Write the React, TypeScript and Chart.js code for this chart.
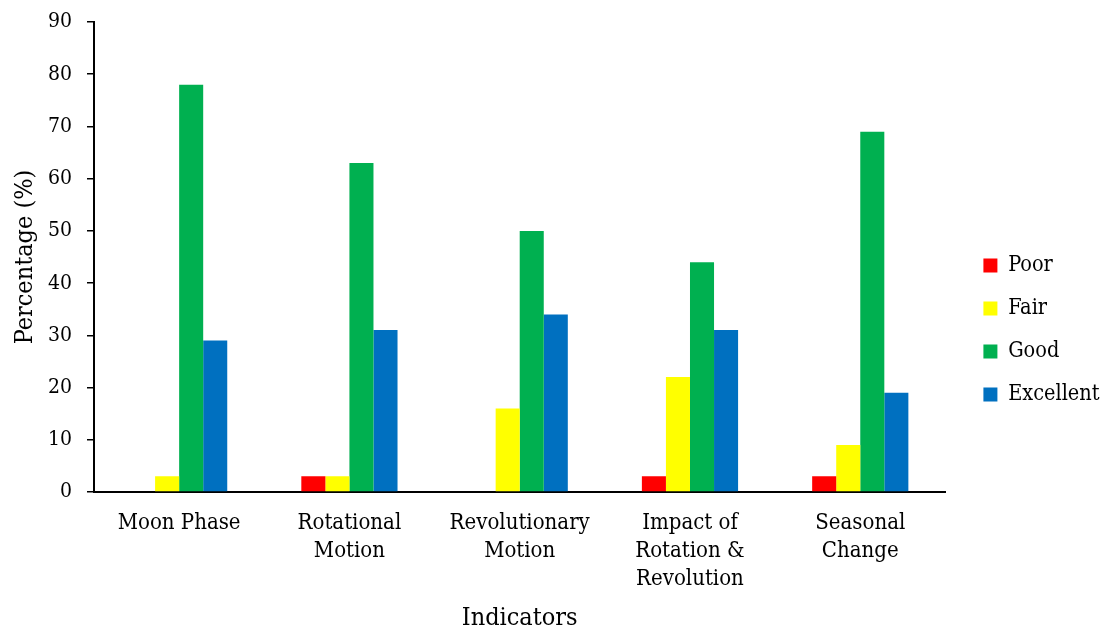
import React, { useEffect, useRef } from "react";
import { Chart, registerables } from "chart.js";

Chart.register(...registerables);

const categories: (string | string[])[] = [
  "Moon Phase",
  ["Rotational", "Motion"],
  ["Revolutionary", "Motion"],
  ["Impact of", "Rotation &", "Revolution"],
  ["Seasonal", "Change"],
];
const seriesNames = ["Poor", "Fair", "Good", "Excellent"];
const poor = [0, 3, 0, 3, 3];
const fair = [3, 3, 16, 22, 9];
const good = [78, 63, 50, 44, 69];
const excellent = [29, 31, 34, 31, 19];
const seriesColors = ["#FF0000", "#FFFF00", "#00B050", "#0070C0"];
const yMin = 0;
const yMax = 90;
const yStep = 10;

const FONT = "'DejaVu Serif Condensed', 'DejaVu Serif', serif";
const LEGEND_PAD = 21.5;

const legendShift = {
  id: "legendShift",
  afterLayout(chart: any) {
    const l = chart.legend;
    if (!l) return;
    const dx = chart.chartArea.right + 38 - (l.left + LEGEND_PAD);
    const dy = 4;
    l.left += dx;
    l.right += dx;
    l.top += dy;
    l.bottom += dy;
  },
};

export default function App() {
  const ref = useRef<HTMLCanvasElement | null>(null);

  useEffect(() => {
    document.body.style.margin = "0";
    if (!ref.current) return;
    const values = [poor, fair, good, excellent];
    const chart = new Chart(ref.current, {
      type: "bar",
      data: {
        labels: categories,
        datasets: seriesNames.map((name, i) => ({
          label: name,
          data: values[i],
          backgroundColor: seriesColors[i],
          borderWidth: 0,
          categoryPercentage: 0.565,
          barPercentage: 1,
        })),
      },
      options: {
        animation: false,
        responsive: true,
        maintainAspectRatio: false,
        layout: { padding: { top: 22, left: 2, right: 11, bottom: 0 } },
        plugins: {
          tooltip: { enabled: false },
          legend: {
            position: "right",
            align: "center",
            labels: {
              boxWidth: 14,
              boxHeight: 14,
              padding: LEGEND_PAD,
              color: "#000",
              font: { family: FONT, size: 21.5 },
            },
          },
        },
        scales: {
          x: {
            afterFit: (s: any) => {
              s.height = 138;
            },
            grid: { display: false, drawTicks: false },
            border: { display: true, color: "#000", width: 2 },
            ticks: {
              color: "#000",
              padding: 17,
              maxRotation: 0,
              autoSkip: false,
              font: { family: FONT, size: 22, lineHeight: 1.27 },
            },
            title: {
              display: true,
              text: "Indicators",
              color: "#000",
              font: { family: FONT, size: 25 },
              padding: { top: 0, bottom: -3 },
            },
          },
          y: {
            afterFit: (s: any) => {
              s.width = 92;
              s.paddingTop = 0;
              s.paddingBottom = 0;
            },
            min: yMin,
            max: yMax,
            grid: {
              display: true,
              drawOnChartArea: false,
              drawTicks: true,
              tickLength: 7,
              color: "#000",
              lineWidth: 1.5,
            },
            border: { display: true, color: "#000", width: 2 },
            ticks: {
              stepSize: yStep,
              color: "#000",
              padding: 15,
              font: { family: FONT, size: 21 },
            },
            title: {
              display: true,
              text: "Percentage (%)",
              color: "#000",
              font: { family: FONT, size: 25 },
              padding: { top: 8, bottom: 8 },
            },
          },
        },
      },
      plugins: [legendShift],
    });
    return () => chart.destroy();
  }, []);

  return (
    <div style={{ position: "relative", width: 1104, height: 630 }}>
      <canvas ref={ref} />
    </div>
  );
}
